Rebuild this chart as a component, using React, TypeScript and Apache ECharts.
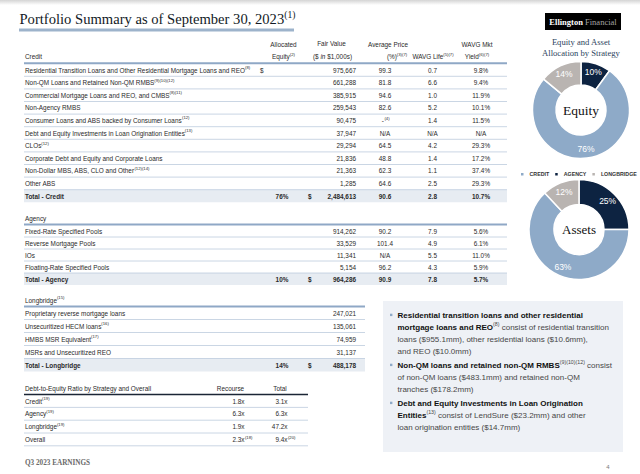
import React, { useEffect, useRef } from "react";
import * as echarts from "echarts";

// ---------------- data ----------------
const strategyNames = ["AGENCY", "CREDIT", "LONGBRIDGE"];
const legendNames = ["CREDIT", "AGENCY", "LONGBRIDGE"];
const equityAllocation = [10, 76, 14];
const assetAllocation = [25, 63, 12];

const creditLabels = [
  "Residential Transition Loans and Other Residential Mortgage Loans and REO",
  "Non-QM Loans and Retained Non-QM RMBS",
  "Commercial Mortgage Loans and REO, and CMBS",
  "Non-Agency RMBS",
  "Consumer Loans and ABS backed by Consumer Loans",
  "Debt and Equity Investments in Loan Origination Entities",
  "CLOs",
  "Corporate Debt and Equity and Corporate Loans",
  "Non-Dollar MBS, ABS, CLO and Other",
  "Other ABS",
];
const creditNotes = ["(8)", "(9)(10)(12)", "(8)(11)", "", "(12)", "(13)", "(12)", "", "(12)(14)", ""];
const creditFairValue = [975667, 661288, 385915, 259543, 90475, 37947, 29294, 21836, 21363, 1285];
const creditAvgPrice = ["99.3", "81.8", "94.6", "82.6", "-", "N/A", "64.5", "48.8", "62.3", "64.6"];
const creditPriceNotes = ["", "", "", "", "(4)", "", "", "", "", ""];
const creditLife = ["0.7", "6.6", "1.0", "5.2", "1.4", "N/A", "4.2", "1.4", "1.1", "2.5"];
const creditYield = ["9.8%", "9.4%", "11.9%", "10.1%", "11.5%", "N/A", "29.3%", "17.2%", "37.4%", "29.3%"];
const creditTotal = { equity: "76%", fairValue: 2484613, price: "90.6", life: "2.8", yield: "10.7%" };

const agencyLabels = ["Fixed-Rate Specified Pools", "Reverse Mortgage Pools", "IOs", "Floating-Rate Specified Pools"];
const agencyFairValue = [914262, 33529, 11341, 5154];
const agencyAvgPrice = ["90.2", "101.4", "N/A", "96.2"];
const agencyLife = ["7.9", "4.9", "5.5", "4.3"];
const agencyYield = ["5.6%", "6.1%", "11.0%", "5.9%"];
const agencyTotal = { equity: "10%", fairValue: 964286, price: "90.9", life: "7.8", yield: "5.7%" };

const longbridgeLabels = [
  "Proprietary reverse mortgage loans",
  "Unsecuritized HECM loans",
  "HMBS MSR Equivalent",
  "MSRs and Unsecuritized REO",
];
const longbridgeNotes = ["", "(16)", "(17)", ""];
const longbridgeFairValue = [247021, 135061, 74959, 31137];
const longbridgeTotal = { equity: "14%", fairValue: 488178 };

const leverageLabels = ["Credit", "Agency", "Longbridge", "Overall"];
const leverageNotes = ["(19)", "(19)", "(19)", ""];
const leverageRecourse = ["1.8x", "6.3x", "1.9x", "2.3x"];
const leverageRecourseNotes = ["", "", "", "(18)"];
const leverageTotal = ["3.1x", "6.3x", "47.2x", "9.4x"];
const leverageTotalNotes = ["", "", "", "(20)"];

const bulletLines = [
  [
    "{b|Residential transition loans and other residential}",
    "{b|mortgage loans and REO}{s|(8)} consist of residential transition",
    "loans ($955.1mm), other residential loans ($10.6mm),",
    "and REO ($10.0mm)",
  ],
  [
    "{b|Non-QM loans and retained non-QM RMBS}{s|(9)(10)(12)} consist",
    "of non-QM loans ($483.1mm) and retained non-QM",
    "tranches ($178.2mm)",
  ],
  [
    "{b|Debt and Equity Investments in Loan Origination}",
    "{b|Entities}{s|(13)} consist of LendSure ($23.2mm) and other",
    "loan origination entities ($14.7mm)",
  ],
];

// ---------------- styling ----------------
const STRAT_COLORS: Record<string, string> = {
  AGENCY: "#0d2341",
  CREDIT: "#8eaac8",
  LONGBRIDGE: "#b9b4b1",
};
const SANS = "'Liberation Sans', Arial, Helvetica, sans-serif";
const SERIF = "'Liberation Serif', 'Times New Roman', serif";
const INK = "#2a2a2a";
const FS = 6.4;
const ROW_LINE = "#bccbdd";
const HEAD_LINE = "#8fa8c6";
const TOTAL_BG = "#e7ecf2";

const fmt = (n: number) => n.toLocaleString("en-US");
const sup = (n: string) => (n ? `{s|${n}}` : "");

function buildOption() {
  const els: any[] = [];

  const richFor = (family: string, weight: string, fill: string, size: number) => ({
    s: {
      fontSize: size * 0.66,
      fontFamily: family,
      fontWeight: "normal",
      fill,
      verticalAlign: "top",
      lineHeight: size * 0.8,
    },
    i: { fontSize: size, fontFamily: family, fontStyle: "italic", fontWeight: weight, fill },
    b: { fontSize: size, fontFamily: family, fontWeight: "bold", fill: "#111111" },
  });

  const T = (x: number, y: number, text: string, o: any = {}) => {
    const size = o.size ?? FS;
    const family = o.family ?? SANS;
    const fill = o.fill ?? INK;
    const weight = o.bold ? "bold" : "normal";
    els.push({
      type: "text",
      x,
      y,
      silent: true,
      z: 10,
      style: {
        text,
        fill,
        fontSize: size,
        fontFamily: family,
        fontWeight: weight,
        align: o.align ?? "left",
        verticalAlign: "middle",
        lineHeight: o.lh ?? Math.round(size * 1.45),
        rich: richFor(family, weight, fill, size),
      },
    });
  };
  const Ln = (x1: number, x2: number, y: number, stroke: string, w: number) =>
    els.push({
      type: "line",
      silent: true,
      z: 5,
      shape: { x1, y1: y, x2, y2: y },
      style: { stroke, lineWidth: w },
    });
  const R = (x: number, y: number, w: number, h: number, fill: any, z = 1) =>
    els.push({ type: "rect", silent: true, z, shape: { x, y, width: w, height: h }, style: { fill } });

  const noted = (xr: number, y: number, main: string, note: string, bold = false) => {
    T(xr, y, main, { align: "right", bold });
    if (note) T(xr + 0.4, y - 2, note, { size: FS * 0.66 });
  };

  // columns
  const X_L = 25;
  const X_EQ = 282;
  const X_DOLLAR_FIRST = 260;
  const X_DOLLAR = 308;
  const X_FV = 356;
  const X_PRICE = 385;
  const X_LIFE = 432.5;
  const X_YIELD = 481;
  const TBL_L = 24;
  const TBL_R = 507;
  const LB_R = 365;
  const DEBT_R = 308;

  const priceCell = (y: number, v: string, note: string, bold = false) => {
    if (note) noted(X_PRICE - 1, y, v, note, bold);
    else T(X_PRICE, y, v, { align: "center", bold });
  };

  // top shadow band
  R(0, 0, 640, 5, {
    type: "linear", x: 0, y: 0, x2: 0, y2: 1,
    colorStops: [{ offset: 0, color: "#d4d4d4" }, { offset: 1, color: "#ffffff" }],
  });

  // title
  T(19.5, 19, "Portfolio Summary as of September 30, 2023" + sup("(1)"), {
    size: 14.6, family: SERIF, fill: "#121a26", lh: 20,
  });
  Ln(19, 294, 30, "#9db3cb", 3);

  // logo
  R(545, 13, 76, 17, "#000000", 2);
  els.push({
    type: "text", x: 583, y: 21.8, silent: true, z: 10,
    style: {
      text: "{e|Ellington}{f| Financial}",
      align: "center", verticalAlign: "middle",
      rich: {
        e: { fontSize: 8.5, fontFamily: SERIF, fontWeight: "bold", fill: "#ffffff" },
        f: { fontSize: 8.5, fontFamily: SERIF, fill: "#a3a3a3" },
      },
    },
  });

  // subtitle for pies
  T(581, 42, "Equity and Asset", { size: 8.6, family: SERIF, fill: "#2b3f5c", align: "center" });
  T(581, 52.5, "Allocation by Strategy", { size: 8.6, family: SERIF, fill: "#2b3f5c", align: "center" });
  T(581, 110, "Equity", { size: 13.5, family: SERIF, fill: "#111111", align: "center" });
  T(579, 229.5, "Assets", { size: 13, family: SERIF, fill: "#111111", align: "center" });

  // ---------- table header ----------
  T(283.5, 44, "Allocated", { align: "center" });
  T(283.5, 56.5, "Equity" + sup("(2)"), { align: "center" });
  T(331.5, 43.5, "Fair Value", { align: "center" });
  T(332.5, 56.5, "($ {i|in} $1,000s)", { align: "center" });
  T(388, 44, "Average Price", { align: "center" });
  T(397, 56.5, "(%)" + sup("(3)(7)"), { align: "center" });
  T(433, 56.5, "WAVG Life" + sup("(5)(7)"), { align: "center" });
  T(477, 44, "WAVG Mkt", { align: "center" });
  T(477, 56.5, "Yield" + sup("(6)(7)"), { align: "center" });
  T(X_L, 56.5, "Credit");
  Ln(TBL_L, TBL_R, 63.2, HEAD_LINE, 2);

  // ---------- credit ----------
  const CY0 = 70;
  const CP = 12.6;
  creditLabels.forEach((lab, i) => {
    const y = CY0 + i * CP;
    if (i > 0) Ln(TBL_L, TBL_R, y - CP / 2, ROW_LINE, 0.8);
    T(X_L, y, lab + sup(creditNotes[i]));
    if (i === 0) T(X_DOLLAR_FIRST, y, "$");
    T(X_FV, y, fmt(creditFairValue[i]), { align: "right" });
    priceCell(y, creditAvgPrice[i], creditPriceNotes[i]);
    T(X_LIFE, y, creditLife[i], { align: "center" });
    T(X_YIELD, y, creditYield[i], { align: "center" });
  });
  {
    const y = CY0 + creditLabels.length * CP;
    R(TBL_L, y - CP / 2, TBL_R - TBL_L, CP, TOTAL_BG);
    Ln(TBL_L, TBL_R, y - CP / 2, ROW_LINE, 0.8);
    T(X_L, y, "Total - Credit", { bold: true });
    T(X_EQ, y, creditTotal.equity, { align: "center", bold: true });
    T(X_DOLLAR, y, "$", { bold: true });
    T(X_FV, y, fmt(creditTotal.fairValue), { align: "right", bold: true });
    T(X_PRICE, y, creditTotal.price, { align: "center", bold: true });
    T(X_LIFE, y, creditTotal.life, { align: "center", bold: true });
    T(X_YIELD, y, creditTotal.yield, { align: "center", bold: true });
  }

  // ---------- agency ----------
  T(X_L, 218, "Agency");
  Ln(TBL_L, TBL_R, 224.5, HEAD_LINE, 2);
  const AY0 = 231;
  const AP = 12;
  agencyLabels.forEach((lab, i) => {
    const y = AY0 + i * AP;
    if (i > 0) Ln(TBL_L, TBL_R, y - AP / 2, ROW_LINE, 0.8);
    T(X_L, y, lab);
    T(X_FV, y, fmt(agencyFairValue[i]), { align: "right" });
    priceCell(y, agencyAvgPrice[i], "");
    T(X_LIFE, y, agencyLife[i], { align: "center" });
    T(X_YIELD, y, agencyYield[i], { align: "center" });
  });
  {
    const y = AY0 + agencyLabels.length * AP;
    R(TBL_L, y - AP / 2, TBL_R - TBL_L, AP, TOTAL_BG);
    Ln(TBL_L, TBL_R, y - AP / 2, ROW_LINE, 0.8);
    T(X_L, y, "Total - Agency", { bold: true });
    T(X_EQ, y, agencyTotal.equity, { align: "center", bold: true });
    T(X_DOLLAR, y, "$", { bold: true });
    T(X_FV, y, fmt(agencyTotal.fairValue), { align: "right", bold: true });
    T(X_PRICE, y, agencyTotal.price, { align: "center", bold: true });
    T(X_LIFE, y, agencyTotal.life, { align: "center", bold: true });
    T(X_YIELD, y, agencyTotal.yield, { align: "center", bold: true });
  }

  // ---------- longbridge ----------
  T(X_L, 300, "Longbridge" + sup("(15)"));
  Ln(TBL_L, LB_R, 306.5, HEAD_LINE, 2);
  const LY0 = 313;
  const LP = 13;
  longbridgeLabels.forEach((lab, i) => {
    const y = LY0 + i * LP;
    if (i > 0) Ln(TBL_L, LB_R, y - LP / 2, ROW_LINE, 0.8);
    T(X_L, y, lab + sup(longbridgeNotes[i]));
    T(X_FV, y, fmt(longbridgeFairValue[i]), { align: "right" });
  });
  {
    const y = LY0 + longbridgeLabels.length * LP;
    R(TBL_L, y - LP / 2, LB_R - TBL_L, LP, TOTAL_BG);
    Ln(TBL_L, LB_R, y - LP / 2, ROW_LINE, 0.8);
    T(X_L, y, "Total - Longbridge", { bold: true });
    T(X_EQ, y, longbridgeTotal.equity, { align: "center", bold: true });
    T(X_DOLLAR, y, "$", { bold: true });
    T(X_FV, y, fmt(longbridgeTotal.fairValue), { align: "right", bold: true });
  }

  // ---------- leverage ----------
  T(X_L, 388, "Debt-to-Equity Ratio by Strategy and Overall");
  T(230.5, 388, "Recourse", { align: "center" });
  T(280, 388, "Total", { align: "center" });
  Ln(TBL_L, DEBT_R, 394.5, "#1b2535", 1.5);
  const DY0 = 401;
  const DP = 12.8;
  leverageLabels.forEach((lab, i) => {
    const y = DY0 + i * DP;
    if (i > 0) Ln(TBL_L, DEBT_R, y - DP / 2, ROW_LINE, 0.8);
    T(X_L, y, lab + sup(leverageNotes[i]));
    noted(244.5, y, leverageRecourse[i], leverageRecourseNotes[i]);
    noted(287.5, y, leverageTotal[i], leverageTotalNotes[i]);
  });
  Ln(TBL_L, DEBT_R, DY0 + leverageLabels.length * DP - DP / 2, ROW_LINE, 0.8);

  // ---------- bullet box ----------
  R(383, 301, 240, 151, "#eef1f6");
  let by = 315;
  bulletLines.forEach((lines) => {
    R(390, by - 1.3, 2.4, 2.4, "#8eaac8", 3);
    lines.forEach((ln) => {
      T(397.5, by, ln, { size: 8, fill: "#474747", lh: 11 });
      by += 12;
    });
    by += 2;
  });

  // footer
  T(25, 463, "Q3 2023 EARNINGS", { size: 7.2, family: SERIF, bold: true, fill: "#6a6a6a" });
  T(608, 467, "4", { size: 6, fill: "#7a7a7a", align: "center" });

  const pieSeries = (center: number[], radius: number[], values: number[]) => ({
    type: "pie",
    center,
    radius,
    startAngle: 90,
    clockwise: true,
    silent: true,
    animation: false,
    emphasis: { disabled: true },
    itemStyle: { borderColor: "#ffffff", borderWidth: 1.5 },
    label: {
      show: true,
      position: "inside",
      formatter: "{c}%",
      color: "#ffffff",
      fontSize: 8.5,
      fontFamily: SANS,
    },
    labelLine: { show: false },
    data: strategyNames.map((n, i) => ({
      name: n,
      value: values[i],
      itemStyle: { color: STRAT_COLORS[n] },
    })),
  });

  return {
    animation: false,
    backgroundColor: "#ffffff",
    legend: {
      data: legendNames,
      left: 514,
      top: 166,
      width: 126,
      icon: "rect",
      itemWidth: 4.5,
      itemHeight: 4.5,
      itemGap: 4,
      selectedMode: false,
      textStyle: { fontSize: 5.3, fontWeight: "bold", color: "#333333", fontFamily: SANS },
    },
    series: [
      pieSeries([581, 110], [25, 48.5], equityAllocation),
      pieSeries([579, 229.5], [25, 50], assetAllocation),
    ],
    graphic: { elements: els },
  };
}

export default function App() {
  const ref = useRef<HTMLDivElement>(null);
  useEffect(() => {
    const chart = echarts.init(ref.current!, undefined, { renderer: "svg" });
    chart.setOption(buildOption() as any);
    return () => chart.dispose();
  }, []);
  return (
    <div
      ref={ref}
      style={{ position: "absolute", left: 0, top: 0, width: 640, height: 474 }}
    />
  );
}
